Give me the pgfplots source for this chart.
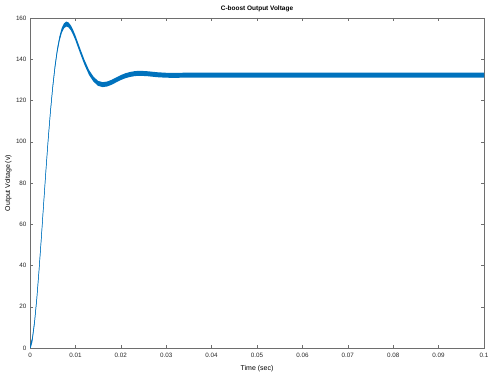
\documentclass[border=0pt]{standalone}
\usepackage{pgfplots}
\pgfplotsset{compat=1.18}
\usepackage{pgfplotstable}
\usepgfplotslibrary{fillbetween}
\usepackage{fontspec}
\setmainfont{Liberation Sans}
\definecolor{mblue}{RGB}{0,114,189}
\definecolor{axgray}{RGB}{110,110,110}
\pgfplotstableread{
t y
0 0
0.0005 4.0
0.001 12.5
0.0015 24.0
0.002 38.0
0.0025 53.5
0.003 69.8
0.0035 85.9
0.004 101.0
0.0045 114.6
0.005 126.4
0.0055 136.3
0.006 144.2
0.0065 150.0
0.007 154.0
0.0075 156.2
0.008 157.1
0.0085 156.6
0.009 155.2
0.0095 153.0
0.010 150.4
0.011 144.3
0.012 138.5
0.013 133.6
0.014 130.3
0.015 128.3
0.016 127.7
0.017 128.0
0.018 128.85
0.019 130.0
0.020 131.1
0.021 132.0
0.022 132.6
0.023 133.0
0.024 133.2
0.025 133.1
0.026 132.96
0.028 132.5
0.030 132.24
0.032 132.2
0.035 132.3
0.1 132.3
}\data
\begin{document}
\begin{tikzpicture}
\begin{axis}[
  name=ax,
  scale only axis,
  width=454bp, height=330bp,
  xmin=0, xmax=0.1, ymin=0, ymax=160,
  xtick={0,0.01,...,0.1},
  xticklabels={0,0.01,0.02,0.03,0.04,0.05,0.06,0.07,0.08,0.09,0.1},
  ytick={0,20,...,160},
  tick align=inside,
  major tick length=3bp,
  axis line style={axgray, line width=0.4pt},
  tick style={axgray, line width=0.4pt},
  tick label style={font=\fontsize{6.3}{7}\selectfont, text=black!85},
  xticklabel style={yshift=-1.5bp},
  /pgf/number format/assume math mode=true,
  xlabel={Time (sec)},
  ylabel={Output Voltage (v)},
  label style={font=\fontsize{7}{8}\selectfont},
  xlabel style={at={(axis description cs:0.5,0)}, anchor=north, yshift=-14bp},
  ylabel style={at={(axis description cs:0,0.5)}, anchor=south, yshift=15bp},
  title={C-boost Output Voltage},
  title style={font=\bfseries\fontsize{6.5}{7}\selectfont, yshift=-3bp},
  clip=true,
]
\addplot[name path=up, draw=none, forget plot] table[x=t, y expr=\thisrow{y}+1.2] {\data};
\addplot[name path=lo, draw=none, forget plot] table[x=t, y expr=\thisrow{y}-1.2] {\data};
\addplot[fill=mblue, draw=none] fill between[of=up and lo];
\addplot[mblue, line width=0.5pt] table[x=t, y=y] {\data};
\end{axis}
\pgfresetboundingbox
\useasboundingbox ([xshift=-30bp,yshift=-32bp]ax.south west) rectangle ([xshift=5bp,yshift=18bp]ax.north east);
\end{tikzpicture}
\end{document}
